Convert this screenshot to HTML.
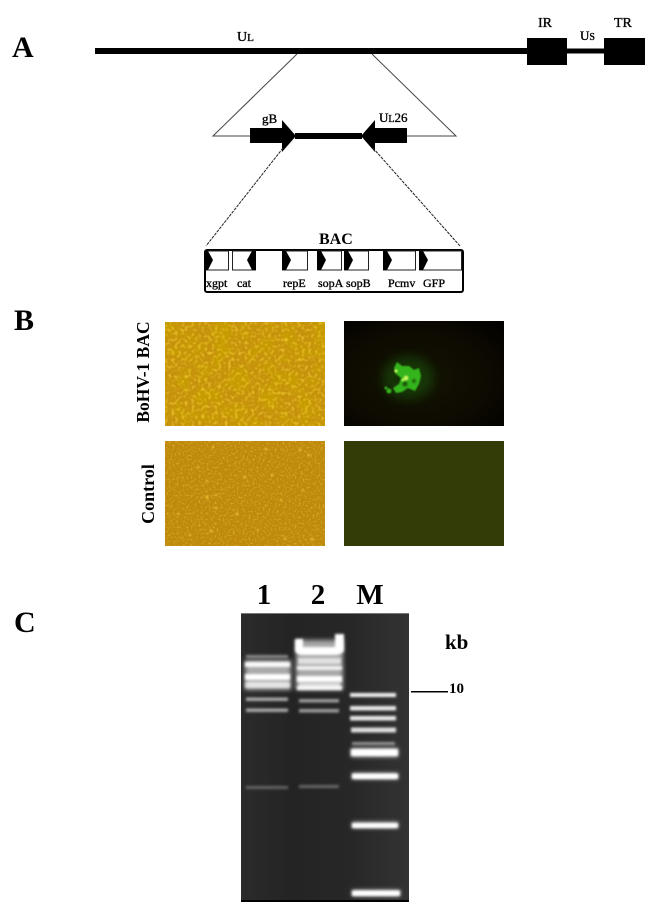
<!DOCTYPE html>
<html><head><meta charset="utf-8"><style>html,body{margin:0;padding:0;background:#fff}svg{display:block}text{font-family:"Liberation Serif",serif;font-weight:bold;fill:#000}text.n{font-weight:normal;stroke:#000;stroke-width:.35}</style></head><body>
<svg width="650" height="907" viewBox="0 0 650 907" xmlns="http://www.w3.org/2000/svg">
<defs>
<filter id="b1" x="-20%" y="-300%" width="140%" height="700%"><feGaussianBlur stdDeviation="1.4"/></filter>
<filter id="b2" x="-20%" y="-300%" width="140%" height="700%"><feGaussianBlur stdDeviation="2.4"/></filter>
<filter id="b4" x="-50%" y="-50%" width="200%" height="200%"><feGaussianBlur stdDeviation="5"/></filter>
<filter id="bs" x="-50%" y="-50%" width="200%" height="200%"><feGaussianBlur stdDeviation="1"/></filter>
<filter id="bt" x="-50%" y="-50%" width="200%" height="200%"><feGaussianBlur stdDeviation=".8"/></filter>
<filter id="n1" x="0" y="0" width="100%" height="100%"><feTurbulence type="fractalNoise" baseFrequency="0.06" numOctaves="3" seed="4"/><feColorMatrix type="matrix" values="0 0 0 0 0.56  0 0 0 0 0.33  0 0 0 0 0  2.8 0 0 0 -1.05"/></filter>
<filter id="n2" x="0" y="0" width="100%" height="100%"><feTurbulence type="fractalNoise" baseFrequency="0.3" numOctaves="1" seed="9"/><feColorMatrix type="matrix" values="0 0 0 0 0.95  0 0 0 0 0.66  0 0 0 0 0.04  2 0 0 0 -0.95"/></filter>
<filter id="n3" x="0" y="0" width="100%" height="100%"><feTurbulence type="fractalNoise" baseFrequency="0.5" numOctaves="1" seed="12"/><feColorMatrix type="matrix" values="0 0 0 0 0.92  0 0 0 0 0.65  0 0 0 0 0.1  1.4 0 0 0 -0.7"/></filter>
<radialGradient id="gf" cx="0.45" cy="0.55" r="0.75"><stop offset="0" stop-color="#141403"/><stop offset="0.6" stop-color="#0d0a01"/><stop offset="1" stop-color="#030100"/></radialGradient>
<linearGradient id="gel" x1="0" x2="1" y1="0" y2="0"><stop offset="0" stop-color="#2b2b2b"/><stop offset="0.3" stop-color="#242424"/><stop offset="0.65" stop-color="#272727"/><stop offset="1" stop-color="#333"/></linearGradient>
</defs>

<!-- Panel A -->
<text x="12" y="57" font-size="30">A</text>
<rect x="95" y="48" width="432" height="6" fill="#000"/>
<rect x="527" y="38" width="40" height="27" fill="#000"/>
<rect x="567" y="48.500" width="37" height="5" fill="#000"/>
<rect x="604" y="38" width="41" height="27" fill="#000"/>
<text class="n" x="237" y="41" font-size="14">U<tspan font-size="11">L</tspan></text>
<text class="n" x="538" y="27" font-size="14">IR</text>
<text class="n" x="580" y="40" font-size="13">U<tspan font-size="10">S</tspan></text>
<text class="n" x="614" y="27" font-size="14">TR</text>
<path d="M297 54 L213 136 H250 M372 54 L456 136 H407" fill="none" stroke="#444" stroke-width="1"/>
<path d="M250 128 H282 V120 L296 136 L282 152 V143 H250Z" fill="#000"/>
<path d="M407 128 H375 V120 L361 136 L375 152 V143 H407Z" fill="#000"/>
<rect x="295" y="133" width="67" height="6" fill="#000"/>
<text class="n" x="262" y="123" font-size="13">gB</text>
<text class="n" x="379" y="122" font-size="13">U<tspan font-size="10">L</tspan>26</text>
<path d="M283 148 L206 246 M373 148 L460 246" fill="none" stroke="#222" stroke-width="1" stroke-dasharray="3 1"/>
<text x="319" y="244" font-size="16">BAC</text>
<rect x="205" y="250" width="258" height="42" rx="2" fill="#fff" stroke="#000" stroke-width="2"/>
<g fill="#fff" stroke="#222" stroke-width="1">
<rect x="205.500" y="251" width="23" height="19"/>
<rect x="232.500" y="251" width="23" height="19"/>
<rect x="282.500" y="251" width="25" height="19"/>
<rect x="317.500" y="251" width="24" height="19"/>
<rect x="344.500" y="251" width="24" height="19"/>
<rect x="383.500" y="251" width="32" height="19"/>
<rect x="419.500" y="251" width="42" height="19"/>
</g>
<g fill="#000">
<path d="M205 251 H208 L213 260 L208 270 H205Z"/>
<path d="M256 251 H252 L247 260 L252 270 H256Z"/>
<path d="M282 251 H286 L291 260 L286 270 H282Z"/>
<path d="M317 251 H321 L326 260 L321 270 H317Z"/>
<path d="M344 251 H348 L353 260 L348 270 H344Z"/>
<path d="M383 251 H387 L392 260 L387 270 H383Z"/>
<path d="M419 251 H423 L428 260 L423 270 H419Z"/>
</g>
<g font-size="12">
<text class="n" x="206" y="287">xgpt</text>
<text class="n" x="237" y="287">cat</text>
<text class="n" x="283" y="287">repE</text>
<text class="n" x="318" y="287">sopA</text>
<text class="n" x="346" y="287">sopB</text>
<text class="n" x="388" y="287">Pcmv</text>
<text class="n" x="423" y="287">GFP</text>
</g>

<!-- Panel B -->
<text x="14" y="330" font-size="30">B</text>
<text transform="translate(149,372) rotate(-90)" text-anchor="middle" font-size="17.500">BoHV-1 BAC</text>
<text transform="translate(154,494) rotate(-90)" text-anchor="middle" font-size="18">Control</text>

<rect x="165" y="322" width="160" height="104" fill="#c6920c"/>
<svg x="165" y="322" width="160" height="104"><rect width="160" height="104" filter="url(#n1)"/><rect width="160" height="104" filter="url(#n2)"/></svg>

<rect x="344" y="321" width="160" height="105" fill="url(#gf)"/>
<ellipse cx="408" cy="378" rx="26" ry="22" fill="#1f6a0c" opacity=".4" filter="url(#b4)"/>
<g filter="url(#bt)" fill="#35b51a">
<path d="M397 362 L402 366 L409 366 L414 370 L419 368 L421 376 L419 384 L415 391 L408 388 L402 392 L396 393 L393 388 L399 384 L401 378 L396 374 L394 368Z"/>
<circle cx="389" cy="391" r="2.500"/><circle cx="386" cy="388" r="1.500"/>
</g>
<g filter="url(#bs)" fill="#0b2a05" opacity=".75"><circle cx="405" cy="384" r="2.500"/><circle cx="397" cy="379" r="1.800"/><circle cx="414" cy="381" r="1.800"/></g>
<g filter="url(#bt)" fill="#c6f55a"><circle cx="406" cy="378" r="2.400"/><circle cx="396" cy="371" r="1.600"/><circle cx="403" cy="380" r="1.400"/></g>

<rect x="165" y="441" width="160" height="105" fill="#bf8a0c"/>
<svg x="165" y="441" width="160" height="105"><rect width="160" height="105" filter="url(#n3)"/></svg>
<g fill="#e8b52c" filter="url(#bt)">
<circle cx="213" cy="447" r="1.300"/><circle cx="266" cy="449" r="1.500"/><circle cx="300" cy="450" r="1.500"/><circle cx="309" cy="455" r="1.300"/><circle cx="198" cy="467" r="1.300"/><circle cx="245" cy="477" r="1.500"/><circle cx="272" cy="475" r="1.500"/><circle cx="207" cy="481" r="1.300"/><circle cx="207" cy="497" r="1.800"/><circle cx="216" cy="495" r="1.300"/><circle cx="281" cy="500" r="1.300"/><circle cx="303" cy="490" r="1.200"/><circle cx="216" cy="508" r="1.300"/><circle cx="237" cy="514" r="1.500"/><circle cx="178" cy="514" r="1.200"/><circle cx="211" cy="531" r="1.500"/><circle cx="258" cy="530" r="1.200"/><circle cx="312" cy="539" r="1.500"/><circle cx="285" cy="538" r="1.200"/><circle cx="190" cy="535" r="1.200"/>
</g>

<rect x="344" y="441" width="160" height="105" fill="#333b07"/>

<!-- Panel C -->
<text x="14" y="632" font-size="30">C</text>
<text x="264" y="604" text-anchor="middle" font-size="29">1</text>
<text x="318" y="604" text-anchor="middle" font-size="29">2</text>
<text x="370" y="604" text-anchor="middle" font-size="29">M</text>
<text x="445" y="649" font-size="21">kb</text>
<rect x="411" y="691" width="37" height="1.500" fill="#000"/>
<text x="449" y="693" font-size="15">10</text>

<rect x="241" y="613" width="168" height="289" fill="url(#gel)"/>
<rect x="293" y="613" width="1" height="289" fill="#222"/>
<rect x="241" y="613" width="168" height="1" fill="#777"/>
<rect x="241" y="900" width="168" height="2" fill="#000"/>

<g fill="#fff">
<!-- glows -->
<g filter="url(#b2)" opacity=".6">
<rect x="245" y="660" width="46" height="30"/>
<rect x="296" y="640" width="47" height="50"/>
<rect x="351" y="748" width="47" height="9"/>
<rect x="352" y="773" width="46" height="6"/>
<rect x="352" y="822" width="46" height="6"/>
<rect x="352" y="890" width="48" height="6"/>
</g>
<!-- lane 1 -->
<g filter="url(#b1)">
<rect x="246" y="655" width="42" height="3" opacity=".45"/>
<rect x="245" y="662" width="45" height="5" opacity=".95"/>
<rect x="245" y="674" width="45" height="6"/>
<rect x="245" y="682" width="45" height="6" opacity=".7"/>
<rect x="246" y="697.500" width="42" height="3.500" opacity=".6"/>
<rect x="246" y="708.500" width="42" height="3.500" opacity=".6"/>
<rect x="246" y="786" width="42" height="3" opacity=".28"/>
</g>
<!-- lane 2 -->
<g filter="url(#b1)">
<path d="M295 639 H303 V647 H335 V634 H344 V651 Q341 655 335 655 H302 Q297 655 295 651Z"/>
<rect x="298" y="658" width="43" height="6" opacity=".65"/>
<rect x="297" y="666" width="45" height="4" opacity=".85"/>
<rect x="297" y="676" width="45" height="6"/>
<rect x="299" y="683" width="41" height="3" opacity=".6"/>
<rect x="297" y="686" width="45" height="4" opacity=".95"/>
<rect x="299" y="699" width="40" height="3.500" opacity=".55"/>
<rect x="299" y="709" width="40" height="3.500" opacity=".55"/>
<rect x="299" y="785" width="40" height="3" opacity=".3"/>
</g>
<!-- marker -->
<g filter="url(#b1)">
<rect x="350" y="693" width="46" height="4" opacity=".95"/>
<rect x="350" y="706" width="46" height="4.500" opacity=".9"/>
<rect x="350" y="716" width="46" height="4.500" opacity=".9"/>
<rect x="351" y="727.500" width="45" height="5" opacity=".85"/>
<rect x="352" y="742" width="43" height="3" opacity=".5"/>
<rect x="351" y="749" width="47" height="7"/>
<rect x="352" y="773.500" width="46" height="5.500"/>
<rect x="352" y="823" width="46" height="5"/>
<rect x="352" y="890.500" width="48" height="5.500"/>
</g>
</g>
</svg>
</body></html>
